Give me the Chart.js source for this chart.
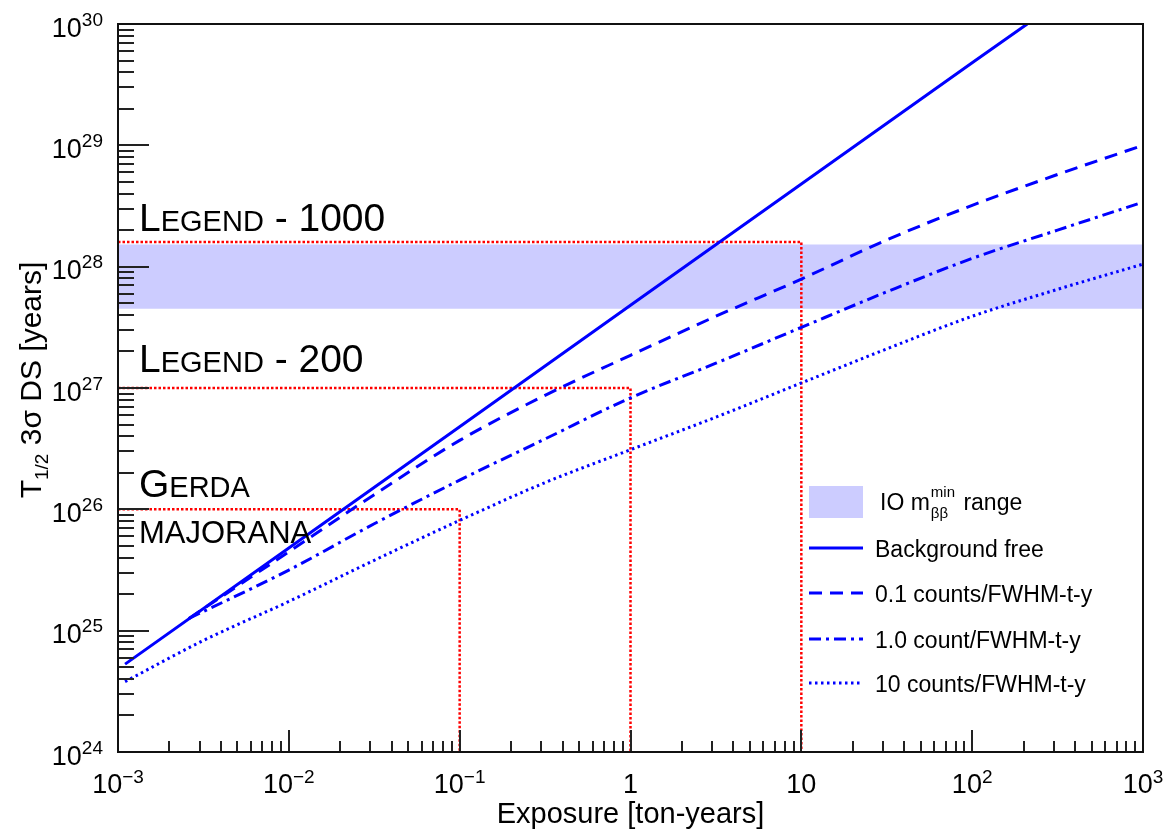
<!DOCTYPE html>
<html>
<head>
<meta charset="utf-8">
<script src="https://cdn.jsdelivr.net/npm/chart.js@4.4.1/dist/chart.umd.min.js"></script>
<style>
  html, body { margin: 0; padding: 0; background: #ffffff; }
  #wrap { width: 1165px; height: 831px; }
</style>
</head>
<body>
<div id="wrap"><canvas id="c" width="1165" height="831"></canvas></div>
<script>
// ---------------- data ----------------
const exposureFree = [0.0011, 0.01, 0.1, 1, 10, 100, 210];
const halfLifeFree = [5.3e24, 4.8e25, 4.8e26, 4.8e27, 4.8e28, 4.8e29, 1.0e30];

const exposureBkg = [0.0026, 0.01, 0.0316, 0.1, 0.316, 1, 3.16, 10, 31.6, 100, 316, 1000];
const halfLife01 = [1.26e25, 4.47e25, 1.32e26, 3.7e26, 8.7e26, 1.86e27, 3.9e27, 7.9e27, 1.66e28, 3.2e28, 5.75e28, 1.0e29];
const halfLife1 = [1.26e25, 3.16e25, 7.6e25, 1.74e26, 3.8e26, 8.3e26, 1.6e27, 3.16e27, 6.2e27, 1.17e28, 2.0e28, 3.4e28];

const exposure10 = [0.0011, 0.00316, 0.01, 0.0316, 0.1, 0.316, 1, 3.16, 10, 31.6, 100, 316, 1000];
const halfLife10 = [3.8e24, 8.3e24, 1.74e25, 3.8e25, 8.1e25, 1.66e26, 3.1e26, 5.75e26, 1.1e27, 2.1e27, 3.9e27, 6.5e27, 1.05e28];

const ioRangeExposure = [1e-3, 1e3];
const ioRangeLow = [4.5e27, 4.5e27];
const ioRangeHigh = [1.52e28, 1.52e28];

const experimentExposure = [10, 1, 0.1];
const experimentHalfLife = [1.6e28, 1e27, 1e26];

const xTickValues = [1e-3, 1e-2, 1e-1, 1, 10, 100, 1000];
const xTickLabels = ['10^−3', '10^−2', '10^−1', '1', '10', '10^2', '10^3'];
const yTickValues = [1e24, 1e25, 1e26, 1e27, 1e28, 1e29, 1e30];
const yTickLabels = ['10^24', '10^25', '10^26', '10^27', '10^28', '10^29', '10^30'];

const seriesNames = ['Background free', '0.1 counts/FWHM-t-y', '1.0 count/FWHM-t-y', '10 counts/FWHM-t-y'];

// ---------------- helpers ----------------
const FONT = '"Liberation Sans", Arial, Helvetica, sans-serif';
const pts = (xs, ys) => xs.map((x, i) => ({ x: x, y: ys[i] }));
const X_MIN = 1e-3, X_MAX = 1e3, Y_MIN = 1e24, Y_MAX = 1e30;

const BLUE = '#0000ff';
const RED = '#ff0000';

const datasets = [];
// blue curves
datasets.push({ label: seriesNames[0], data: pts(exposureFree, halfLifeFree), borderColor: BLUE, borderWidth: 3, borderDash: [], order: 1 });
datasets.push({ label: seriesNames[1], data: pts(exposureBkg, halfLife01), borderColor: BLUE, borderWidth: 3, borderDash: [13, 8], order: 1, cubicInterpolationMode: 'monotone' });
datasets.push({ label: seriesNames[2], data: pts(exposureBkg, halfLife1), borderColor: BLUE, borderWidth: 3, borderDash: [12, 5, 3, 5], order: 1, cubicInterpolationMode: 'monotone' });
datasets.push({ label: seriesNames[3], data: pts(exposure10, halfLife10), borderColor: BLUE, borderWidth: 3, borderDash: [2.5, 3.5], order: 1, cubicInterpolationMode: 'monotone' });
// red experiment lines
experimentExposure.forEach((e, i) => {
  const h = experimentHalfLife[i];
  datasets.push({ label: 'exp' + i, data: [{ x: X_MIN, y: h }, { x: e, y: h }, { x: e, y: Y_MIN }], borderColor: RED, borderWidth: 2.5, borderDash: [2.5, 2], order: 5 });
});
// IO band
const bandLowIndex = datasets.length;
datasets.push({ label: 'ioLow', data: pts(ioRangeExposure, ioRangeLow), borderWidth: 0, borderColor: 'rgba(0,0,0,0)', fill: false, order: 10 });
datasets.push({ label: 'IO range', data: pts(ioRangeExposure, ioRangeHigh), borderWidth: 0, borderColor: 'rgba(0,0,0,0)', backgroundColor: '#ccccff', fill: bandLowIndex, order: 10 });

datasets.forEach(d => { d.pointRadius = 0; d.tension = 0; d.borderCapStyle = 'butt'; if (d.fill === undefined) d.fill = false; });

function drawPowerLabel(ctx, label, x, y, baseSize, supSize, supRise, align) {
  const parts = label.split('^');
  ctx.font = baseSize + 'px ' + FONT;
  const wb = ctx.measureText(parts[0]).width;
  let ws = 0;
  if (parts[1]) { ctx.font = supSize + 'px ' + FONT; ws = ctx.measureText(parts[1]).width; }
  const total = wb + ws;
  let x0 = align === 'right' ? x - total : (align === 'center' ? x - total / 2 : x);
  ctx.textAlign = 'left';
  ctx.textBaseline = 'alphabetic';
  ctx.font = baseSize + 'px ' + FONT;
  ctx.fillText(parts[0], x0, y);
  if (parts[1]) {
    ctx.font = supSize + 'px ' + FONT;
    ctx.fillText(parts[1], x0 + wb, y - supRise);
  }
}

function drawRuns(ctx, runs, x, y) {
  let cx = x;
  runs.forEach(r => {
    ctx.font = r[1] + 'px ' + FONT;
    ctx.fillText(r[0], cx, y);
    cx += ctx.measureText(r[0]).width;
  });
}

const decorPlugin = {
  id: 'decor',
  afterDraw(chart) {
    const ctx = chart.ctx;
    const xs = chart.scales.x, ys = chart.scales.y;
    const a = chart.chartArea;
    ctx.save();
    ctx.fillStyle = '#000';
    ctx.strokeStyle = '#222';

    // ticks (inside)
    ctx.lineWidth = 2;
    ctx.beginPath();
    for (let d = 24; d < 30; d++) {
      for (let m = 1; m <= 9; m++) {
        const v = m * Math.pow(10, d);
        const py = Math.round(ys.getPixelForValue(v));
        const len = m === 1 ? 31 : 16;
        ctx.moveTo(a.left, py); ctx.lineTo(a.left + len, py);
      }
    }
    for (let d = -3; d < 3; d++) {
      for (let m = 1; m <= 9; m++) {
        const v = m * Math.pow(10, d);
        const px = Math.round(xs.getPixelForValue(v));
        const len = m === 1 ? 22 : 11;
        ctx.moveTo(px, a.bottom); ctx.lineTo(px, a.bottom - len);
      }
    }
    ctx.stroke();

    // frame
    ctx.lineWidth = 2;
    ctx.strokeStyle = '#111';
    ctx.strokeRect(a.left, a.top, a.right - a.left, a.bottom - a.top);

    // tick labels
    ctx.fillStyle = '#000';
    yTickValues.forEach((v, i) => {
      const py = ys.getPixelForValue(v);
      drawPowerLabel(ctx, yTickLabels[i], a.left - 15, py + 12.5, 27, 19, 11, 'right');
    });
    xTickValues.forEach((v, i) => {
      const px = xs.getPixelForValue(v);
      drawPowerLabel(ctx, xTickLabels[i], px, a.bottom + 41, 27, 19, 10, 'center');
    });

    // axis titles
    ctx.font = '29px ' + FONT;
    ctx.textAlign = 'center';
    ctx.textBaseline = 'alphabetic';
    ctx.fillText('Exposure [ton-years]', (a.left + a.right) / 2, a.bottom + 71);

    ctx.save();
    ctx.translate(41, 380);
    ctx.rotate(-Math.PI / 2);
    ctx.textAlign = 'left';
    const tParts = [['T', 30, 0], ['1/2', 19, 7], [' 3σ DS [years]', 30, 0]];
    let tw = 0;
    tParts.forEach(p => { ctx.font = p[1] + 'px ' + FONT; tw += ctx.measureText(p[0]).width; });
    let tx = -tw / 2;
    tParts.forEach(p => { ctx.font = p[1] + 'px ' + FONT; ctx.fillText(p[0], tx, p[2]); tx += ctx.measureText(p[0]).width; });
    ctx.restore();

    // experiment labels
    ctx.textAlign = 'left';
    const lx = a.left + 21;
    drawRuns(ctx, [['L', 39], ['EGEND', 29], [' - 1000', 39]], lx, ys.getPixelForValue(experimentHalfLife[0]) - 11);
    drawRuns(ctx, [['L', 39], ['EGEND', 29], [' - 200', 39]], lx, ys.getPixelForValue(experimentHalfLife[1]) - 16);
    drawRuns(ctx, [['G', 39], ['ERDA', 29]], lx, ys.getPixelForValue(experimentHalfLife[2]) - 12);
    drawRuns(ctx, [['MAJORANA', 31]], lx, ys.getPixelForValue(experimentHalfLife[2]) + 34);

    // legend
    const lgX0 = 809, lgX1 = 863, txX = 875;
    ctx.fillStyle = '#ccccff';
    ctx.fillRect(lgX0, 486, lgX1 - lgX0, 32);
    ctx.fillStyle = '#000';
    ctx.font = '23px ' + FONT;
    ctx.fillText('IO m', 880, 510);
    let wIOm = ctx.measureText('IO m').width;
    ctx.font = '15px ' + FONT;
    ctx.fillText('min', 880 + wIOm + 1, 497);
    ctx.fillText('ββ', 880 + wIOm + 1, 518);
    const wMin = ctx.measureText('min').width;
    ctx.font = '23px ' + FONT;
    ctx.fillText(' range', 880 + wIOm + wMin + 3, 510);

    const lineYs = [548, 593, 639, 683];
    for (let i = 0; i < 4; i++) {
      const ds = chart.data.datasets[i];
      ctx.save();
      ctx.strokeStyle = ds.borderColor;
      ctx.lineWidth = ds.borderWidth;
      ctx.setLineDash(ds.borderDash || []);
      ctx.beginPath();
      ctx.moveTo(lgX0, lineYs[i]); ctx.lineTo(lgX1, lineYs[i]);
      ctx.stroke();
      ctx.restore();
      ctx.fillStyle = '#000';
      ctx.font = '23px ' + FONT;
      ctx.fillText(ds.label, txX, lineYs[i] + 9);
    }
    ctx.restore();
  }
};

new Chart(document.getElementById('c'), {
  type: 'line',
  data: { datasets: datasets },
  options: {
    responsive: false,
    devicePixelRatio: 1,
    animation: false,
    layout: { padding: { left: 118, right: 22, top: 24, bottom: 79 } },
    plugins: { legend: { display: false }, tooltip: { enabled: false } },
    scales: {
      x: { type: 'logarithmic', min: X_MIN, max: X_MAX, display: false },
      y: { type: 'logarithmic', min: Y_MIN, max: Y_MAX, display: false }
    }
  },
  plugins: [decorPlugin]
});
</script>
</body>
</html>
